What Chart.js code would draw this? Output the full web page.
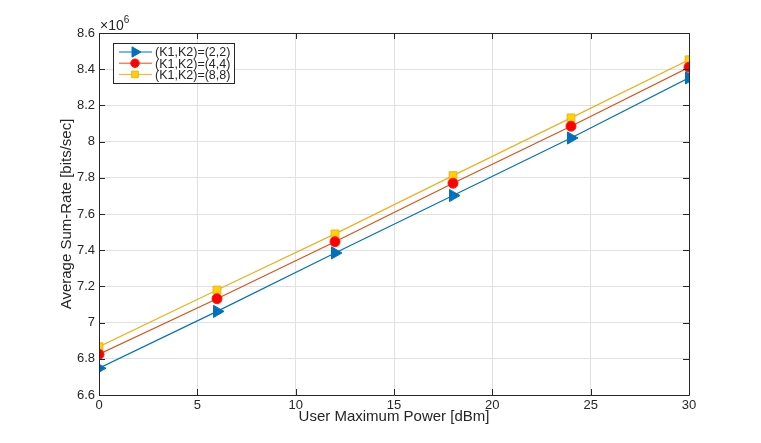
<!DOCTYPE html>
<html>
<head>
<meta charset="utf-8">
<script src="https://cdn.jsdelivr.net/npm/chart.js@4/dist/chart.umd.min.js"></script>
<style>
  html, body { margin: 0; padding: 0; background: #fff; }
  #wrap { width: 761px; height: 443px; }
</style>
</head>
<body>
<div id="wrap"><canvas id="c" width="761" height="443"></canvas></div>
<script>
// x values (dBm) and sum-rates in units of 1e6 bits/sec
const powers = [0, 6, 12, 18, 24, 30];
const rateK22 = [6.748, 7.062, 7.385, 7.702, 8.020, 8.352];
const rateK44 = [6.825, 7.132, 7.447, 7.770, 8.085, 8.411];
const rateK88 = [6.867, 7.180, 7.490, 7.812, 8.131, 8.452];
const seriesNames = ['(K1,K2)=(2,2)', '(K1,K2)=(4,4)', '(K1,K2)=(8,8)'];
const yTicks = [6.6, 6.8, 7, 7.2, 7.4, 7.6, 7.8, 8, 8.2, 8.4, 8.6];
const xTicks = [0, 5, 10, 15, 20, 25, 30];

const FONT = 'Liberation Sans, Arial, Helvetica, sans-serif';
const TXT = '#262626';

function toPoints(vals) {
    return powers.map((p, i) => ({ x: p, y: vals[i] }));
}

// box, inner ticks, exponent label and legend drawn like MATLAB
const matlabLook = {
    id: 'matlabLook',
    afterDraw(chart) {
        const ctx = chart.ctx;
        const a = chart.chartArea;
        const xs = chart.scales.x, ys = chart.scales.y;
        ctx.save();
        ctx.strokeStyle = TXT;
        ctx.lineWidth = 1;
        ctx.beginPath();
        ctx.rect(Math.round(a.left) + 0.5, Math.round(a.top) + 0.5,
                 Math.round(a.right - a.left), Math.round(a.bottom - a.top));
        ctx.stroke();

        // inner ticks
        ctx.beginPath();
        xTicks.forEach(v => {
            const px = Math.round(xs.getPixelForValue(v)) + 0.5;
            ctx.moveTo(px, a.bottom); ctx.lineTo(px, a.bottom - 6);
            ctx.moveTo(px, a.top); ctx.lineTo(px, a.top + 6);
        });
        yTicks.forEach(v => {
            const py = Math.round(ys.getPixelForValue(v)) + 0.5;
            ctx.moveTo(a.left, py); ctx.lineTo(a.left + 6, py);
            ctx.moveTo(a.right, py); ctx.lineTo(a.right - 6, py);
        });
        ctx.stroke();

        // exponent
        ctx.fillStyle = TXT;
        ctx.textBaseline = 'alphabetic';
        ctx.textAlign = 'left';
        ctx.font = '14px ' + FONT;
        ctx.fillText('\u00d710', a.left + 1, a.top - 3);
        const w = ctx.measureText('\u00d710').width;
        ctx.font = '10px ' + FONT;
        ctx.fillText('6', a.left + 1 + w, a.top - 10);

        // legend
        const lx = a.left + 14, ly = a.top + 10, lw = 121, lh = 40;
        ctx.fillStyle = '#fff';
        ctx.fillRect(lx, ly, lw, lh);
        ctx.strokeStyle = TXT;
        ctx.strokeRect(lx + 0.5, ly + 0.5, lw, lh);
        ctx.font = '12.5px ' + FONT;
        ctx.textBaseline = 'middle';
        chart.data.datasets.forEach((ds, i) => {
            const y = ly + 9 + i * 11.2;
            ctx.strokeStyle = ds.borderColor;
            ctx.lineWidth = 1;
            ctx.beginPath();
            ctx.moveTo(lx + 6, y); ctx.lineTo(lx + 39, y);
            ctx.stroke();
            ctx.save();
            ctx.fillStyle = ds.pointBackgroundColor;
            ctx.strokeStyle = ds.pointBorderColor;
            Chart.helpers.drawPoint(ctx, {
                pointStyle: ds.pointStyle,
                rotation: ds.pointRotation || 0,
                radius: ds.pointRadius * 0.85,
                borderWidth: 1
            }, lx + 22, y);
            ctx.restore();
            ctx.fillStyle = TXT;
            ctx.fillText(ds.label, lx + 42, y + 1);
        });
        ctx.restore();
    }
};

new Chart(document.getElementById('c'), {
    type: 'line',
    data: {
        datasets: [
            {
                label: seriesNames[0],
                data: toPoints(rateK22),
                borderColor: '#0072BD',
                borderWidth: 1.2,
                pointStyle: 'triangle',
                pointRotation: 90,
                pointRadius: 7,
                pointBackgroundColor: '#0072BD',
                pointBorderColor: '#0072BD',
                pointBorderWidth: 1
            },
            {
                label: seriesNames[1],
                data: toPoints(rateK44),
                borderColor: '#D95319',
                borderWidth: 1.2,
                pointStyle: 'circle',
                pointRadius: 5,
                pointBackgroundColor: '#FF0000',
                pointBorderColor: '#FF1A00',
                pointBorderWidth: 1
            },
            {
                label: seriesNames[2],
                data: toPoints(rateK88),
                borderColor: '#EDB120',
                borderWidth: 1.2,
                pointStyle: 'rect',
                pointRadius: 5.5,
                pointBackgroundColor: '#FFD200',
                pointBorderColor: '#EDB120',
                pointBorderWidth: 1
            }
        ]
    },
    options: {
        responsive: false,
        animation: false,
        layout: { padding: { top: 33, right: 72, left: 58, bottom: 17 } },
        plugins: { legend: { display: false }, tooltip: { enabled: false } },
        scales: {
            x: {
                type: 'linear',
                min: 0, max: 30,
                afterBuildTicks: s => { s.ticks = xTicks.map(v => ({ value: v })); },
                afterFit: s => { s.height = 31; },
                border: { display: false },
                grid: { color: '#e1e1e1', drawTicks: false },
                ticks: { color: TXT, font: { family: FONT, size: 13 }, padding: 3, maxRotation: 0 },
                title: {
                    display: true, text: 'User Maximum Power [dBm]', color: TXT,
                    font: { family: FONT, size: 15 }, padding: { top: 0, bottom: 0 }
                }
            },
            y: {
                type: 'linear',
                min: 6.6, max: 8.6,
                afterBuildTicks: s => { s.ticks = yTicks.map(v => ({ value: v })); },
                afterFit: s => { s.width = 41; },
                border: { display: false },
                grid: { color: '#e1e1e1', drawTicks: false },
                ticks: {
                    color: TXT, font: { family: FONT, size: 13 }, padding: 4,
                    callback: v => String(Number(v.toFixed(1)))
                },
                title: {
                    display: true, text: 'Average Sum-Rate [bits/sec]', color: TXT,
                    font: { family: FONT, size: 15 }, padding: { top: 0, bottom: 0 }
                }
            }
        }
    },
    plugins: [matlabLook]
});
</script>
</body>
</html>
